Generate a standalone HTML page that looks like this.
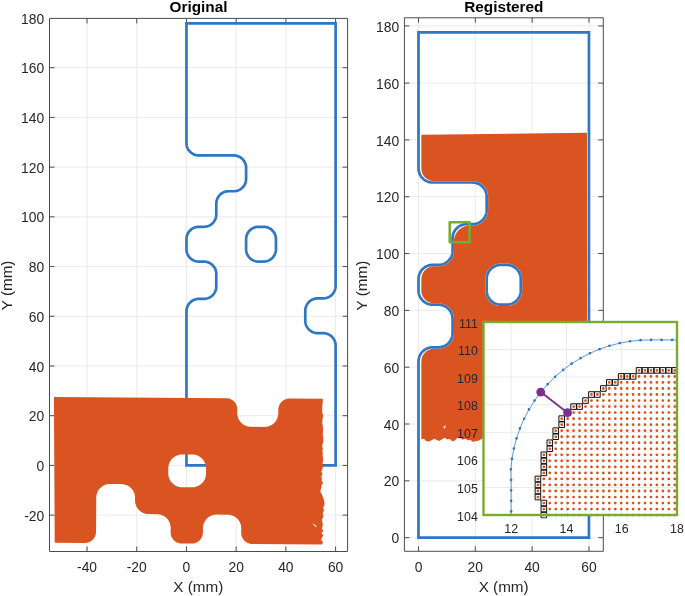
<!DOCTYPE html>
<html lang="en"><head><meta charset="utf-8"><title>Original vs Registered</title>
<style>html,body{margin:0;padding:0;background:#fff}body{width:685px;height:596px;overflow:hidden}svg{display:block}text{font-family:"Liberation Sans", Arial, Helvetica, sans-serif;fill:#262626}</style></head><body>
<svg width="685" height="596" viewBox="0 0 685 596">
<rect width="685" height="596" fill="#fff"/>
<g id="ax-original">
<path d="M87.04 18.4V551.5M136.75 18.4V551.5M186.46 18.4V551.5M236.17 18.4V551.5M285.88 18.4V551.5M335.6 18.4V551.5M49.5 515.11H347.6M49.5 465.4H347.6M49.5 415.69H347.6M49.5 365.98H347.6M49.5 316.26H347.6M49.5 266.55H347.6M49.5 216.84H347.6M49.5 167.13H347.6M49.5 117.42H347.6M49.5 67.7H347.6" stroke="#eaeaea" stroke-width="1" fill="none"/>
<path d="M49.5 18.4H347.6V551.5H49.5ZM87.04 551.5v-5M87.04 18.4v5M136.75 551.5v-5M136.75 18.4v5M186.46 551.5v-5M186.46 18.4v5M236.17 551.5v-5M236.17 18.4v5M285.88 551.5v-5M285.88 18.4v5M335.6 551.5v-5M335.6 18.4v5M49.5 515.11h5M347.6 515.11h-5M49.5 465.4h5M347.6 465.4h-5M49.5 415.69h5M347.6 415.69h-5M49.5 365.98h5M347.6 365.98h-5M49.5 316.26h5M347.6 316.26h-5M49.5 266.55h5M347.6 266.55h-5M49.5 216.84h5M347.6 216.84h-5M49.5 167.13h5M347.6 167.13h-5M49.5 117.42h5M347.6 117.42h-5M49.5 67.7h5M347.6 67.7h-5" stroke="#4c4c4c" stroke-width="1" fill="none"/>
<path d="M186.46 465.4L186.46 311.29L186.48 310.54L186.55 309.79L186.66 309.05L186.82 308.32L187.02 307.6L187.27 306.89L187.55 306.19L187.88 305.52L188.25 304.86L188.66 304.23L189.1 303.63L189.59 303.05L190.1 302.5L190.65 301.99L191.22 301.51L191.83 301.06L192.46 300.66L193.11 300.29L193.79 299.96L194.48 299.67L195.19 299.43L195.91 299.23L196.65 299.07L197.39 298.96L198.14 298.89L198.89 298.86L203.86 298.86L204.61 298.84L205.36 298.77L206.1 298.66L206.83 298.5L207.56 298.3L208.27 298.06L208.96 297.77L209.63 297.44L210.29 297.07L210.92 296.66L211.52 296.22L212.1 295.74L212.65 295.22L213.16 294.68L213.64 294.1L214.09 293.5L214.49 292.87L214.86 292.21L215.19 291.54L215.48 290.84L215.72 290.13L215.93 289.41L216.08 288.68L216.2 287.93L216.26 287.19L216.29 286.44L216.29 274.01L216.26 273.26L216.2 272.51L216.08 271.77L215.93 271.03L215.72 270.31L215.48 269.6L215.19 268.91L214.86 268.23L214.49 267.58L214.09 266.95L213.64 266.34L213.16 265.77L212.65 265.22L212.1 264.71L211.52 264.23L210.92 263.78L210.29 263.37L209.63 263L208.96 262.68L208.27 262.39L207.56 262.14L206.83 261.94L206.1 261.78L205.36 261.67L204.61 261.6L203.86 261.58L198.89 261.58L198.14 261.56L197.39 261.49L196.65 261.38L195.91 261.22L195.19 261.02L194.48 260.77L193.79 260.49L193.11 260.16L192.46 259.79L191.83 259.38L191.22 258.94L190.65 258.46L190.1 257.94L189.59 257.39L189.1 256.82L188.66 256.21L188.25 255.58L187.88 254.93L187.55 254.25L187.27 253.56L187.02 252.85L186.82 252.13L186.66 251.39L186.55 250.65L186.48 249.9L186.46 249.15L186.46 239.21L186.48 238.46L186.55 237.71L186.66 236.97L186.82 236.24L187.02 235.51L187.27 234.8L187.55 234.11L187.88 233.43L188.25 232.78L188.66 232.15L189.1 231.55L189.59 230.97L190.1 230.42L190.65 229.91L191.22 229.43L191.83 228.98L192.46 228.57L193.11 228.21L193.79 227.88L194.48 227.59L195.19 227.35L195.91 227.14L196.65 226.99L197.39 226.87L198.14 226.81L198.89 226.78L203.86 226.78L204.61 226.76L205.36 226.69L206.1 226.58L206.83 226.42L207.56 226.22L208.27 225.97L208.96 225.69L209.63 225.36L210.29 224.99L210.92 224.58L211.52 224.14L212.1 223.66L212.65 223.14L213.16 222.6L213.64 222.02L214.09 221.41L214.49 220.78L214.86 220.13L215.19 219.46L215.48 218.76L215.72 218.05L215.93 217.33L216.08 216.59L216.2 215.85L216.26 215.1L216.29 214.35L216.29 203.67L216.31 202.92L216.38 202.17L216.49 201.43L216.65 200.69L216.85 199.97L217.09 199.26L217.38 198.57L217.71 197.89L218.08 197.24L218.49 196.61L218.93 196L219.41 195.43L219.93 194.88L220.47 194.36L221.05 193.88L221.66 193.44L222.29 193.03L222.94 192.66L223.61 192.33L224.31 192.05L225.02 191.8L225.74 191.6L226.47 191.44L227.22 191.33L227.96 191.26L228.72 191.24L233.69 191.24L234.44 191.22L235.18 191.15L235.93 191.03L236.66 190.88L237.38 190.68L238.09 190.43L238.79 190.14L239.46 189.81L240.12 189.45L240.75 189.04L241.35 188.59L241.93 188.11L242.47 187.6L242.99 187.05L243.47 186.47L243.91 185.87L244.32 185.24L244.69 184.59L245.02 183.91L245.31 183.22L245.55 182.51L245.75 181.78L245.91 181.05L246.02 180.31L246.09 179.56L246.11 178.81L246.11 167.87L246.09 167.12L246.02 166.38L245.91 165.63L245.75 164.9L245.55 164.18L245.31 163.47L245.02 162.77L244.69 162.1L244.32 161.44L243.91 160.81L243.47 160.21L242.99 159.63L242.47 159.09L241.93 158.57L241.35 158.09L240.75 157.65L240.12 157.24L239.46 156.87L238.79 156.54L238.09 156.25L237.38 156.01L236.66 155.81L235.93 155.65L235.18 155.54L234.44 155.47L233.69 155.45L198.89 155.45L198.14 155.42L197.39 155.36L196.65 155.24L195.91 155.08L195.19 154.88L194.48 154.64L193.79 154.35L193.11 154.02L192.46 153.65L191.83 153.25L191.22 152.8L190.65 152.32L190.1 151.81L189.59 151.26L189.1 150.68L188.66 150.08L188.25 149.45L187.88 148.79L187.55 148.12L187.27 147.42L187.02 146.72L186.82 145.99L186.66 145.26L186.55 144.52L186.48 143.77L186.46 143.02L186.46 23.46L335.6 23.46L335.6 285.94L335.57 286.69L335.51 287.44L335.39 288.18L335.23 288.91L335.03 289.64L334.79 290.35L334.5 291.04L334.17 291.72L333.8 292.37L333.4 293L332.95 293.6L332.47 294.18L331.96 294.73L331.41 295.24L330.83 295.72L330.23 296.17L329.6 296.58L328.94 296.94L328.27 297.27L327.58 297.56L326.87 297.8L326.14 298.01L325.41 298.16L324.67 298.28L323.92 298.35L323.17 298.37L317.7 298.37L316.95 298.39L316.2 298.46L315.46 298.57L314.73 298.73L314 298.93L313.29 299.18L312.6 299.46L311.92 299.79L311.27 300.16L310.64 300.57L310.04 301.01L309.46 301.49L308.91 302.01L308.4 302.55L307.92 303.13L307.47 303.74L307.06 304.37L306.7 305.02L306.37 305.7L306.08 306.39L305.83 307.1L305.63 307.82L305.48 308.56L305.36 309.3L305.29 310.05L305.27 310.8L305.27 320.74L305.29 321.49L305.36 322.24L305.48 322.98L305.63 323.71L305.83 324.44L306.08 325.15L306.37 325.84L306.7 326.51L307.06 327.17L307.47 327.8L307.92 328.4L308.4 328.98L308.91 329.53L309.46 330.04L310.04 330.52L310.64 330.97L311.27 331.37L311.92 331.74L312.6 332.07L313.29 332.36L314 332.6L314.73 332.8L315.46 332.96L316.2 333.08L316.95 333.14L317.7 333.17L323.17 333.17L323.92 333.19L324.67 333.26L325.41 333.37L326.14 333.53L326.87 333.73L327.58 333.97L328.27 334.26L328.94 334.59L329.6 334.96L330.23 335.37L330.83 335.81L331.41 336.29L331.96 336.81L332.47 337.35L332.95 337.93L333.4 338.53L333.8 339.16L334.17 339.82L334.5 340.49L334.79 341.19L335.03 341.9L335.23 342.62L335.39 343.35L335.51 344.1L335.57 344.84L335.6 345.59L335.6 465.4ZM258.54 261.58L257.79 261.56L257.04 261.49L256.3 261.38L255.57 261.22L254.85 261.02L254.14 260.77L253.44 260.49L252.77 260.16L252.11 259.79L251.48 259.38L250.88 258.94L250.3 258.46L249.75 257.94L249.24 257.39L248.76 256.82L248.31 256.21L247.91 255.58L247.54 254.93L247.21 254.25L246.92 253.56L246.68 252.85L246.48 252.13L246.32 251.39L246.21 250.65L246.14 249.9L246.11 249.15L246.11 239.21L246.14 238.46L246.21 237.71L246.32 236.97L246.48 236.24L246.68 235.51L246.92 234.8L247.21 234.11L247.54 233.43L247.91 232.78L248.31 232.15L248.76 231.55L249.24 230.97L249.75 230.42L250.3 229.91L250.88 229.43L251.48 228.98L252.11 228.57L252.77 228.21L253.44 227.88L254.14 227.59L254.85 227.35L255.57 227.14L256.3 226.99L257.04 226.87L257.79 226.81L258.54 226.78L263.51 226.78L264.26 226.81L265.01 226.87L265.75 226.99L266.49 227.14L267.21 227.35L267.92 227.59L268.61 227.88L269.29 228.21L269.94 228.57L270.57 228.98L271.18 229.43L271.75 229.91L272.3 230.42L272.82 230.97L273.3 231.55L273.74 232.15L274.15 232.78L274.52 233.43L274.85 234.11L275.13 234.8L275.38 235.51L275.58 236.24L275.74 236.97L275.85 237.71L275.92 238.46L275.94 239.21L275.94 249.15L275.92 249.9L275.85 250.65L275.74 251.39L275.58 252.13L275.38 252.85L275.13 253.56L274.85 254.25L274.52 254.93L274.15 255.58L273.74 256.21L273.3 256.82L272.82 257.39L272.3 257.94L271.75 258.46L271.18 258.94L270.57 259.38L269.94 259.79L269.29 260.16L268.61 260.49L267.92 260.77L267.21 261.02L266.49 261.22L265.75 261.38L265.01 261.49L264.26 261.56L263.51 261.58Z" fill="none" stroke="#2f77c4" stroke-width="2.7" stroke-linejoin="miter"/>
<path d="M321.91 544.45L252.32 544L251.56 543.97L250.8 543.89L250.05 543.75L249.3 543.56L248.58 543.33L247.87 543.04L247.18 542.71L246.52 542.33L245.88 541.91L245.28 541.44L244.7 540.94L244.17 540.4L243.67 539.82L243.21 539.21L242.8 538.56L242.43 537.9L242.1 537.2L241.83 536.49L241.6 535.76L241.43 535.02L241.3 534.27L241.23 533.51L241.21 532.74L241.23 528.39L241.22 527.63L241.16 526.86L241.06 526.1L240.91 525.35L240.72 524.6L240.5 523.87L240.23 523.15L239.92 522.45L239.57 521.77L239.19 521.11L238.76 520.47L238.31 519.85L237.82 519.26L237.29 518.7L236.74 518.17L236.16 517.67L235.55 517.21L234.91 516.78L234.25 516.38L233.58 516.03L232.88 515.71L232.16 515.43L231.43 515.19L230.69 515L229.94 514.84L229.18 514.73L228.42 514.66L227.65 514.63L216.72 514.56L215.95 514.58L215.18 514.64L214.42 514.74L213.67 514.89L212.93 515.07L212.2 515.3L211.48 515.57L210.78 515.88L210.09 516.23L209.43 516.61L208.79 517.03L208.17 517.49L207.58 517.98L207.02 518.5L206.49 519.06L205.99 519.64L205.53 520.25L205.1 520.89L204.71 521.54L204.35 522.22L204.03 522.92L203.75 523.63L203.52 524.36L203.32 525.11L203.17 525.86L203.05 526.61L202.98 527.38L202.96 528.14L202.93 532.49L202.9 533.26L202.82 534.02L202.68 534.77L202.49 535.51L202.26 536.24L201.97 536.94L201.64 537.63L201.26 538.3L200.84 538.93L200.37 539.54L199.87 540.11L199.33 540.65L198.75 541.14L198.14 541.6L197.49 542.02L196.83 542.39L196.13 542.71L195.42 542.99L194.69 543.21L193.95 543.39L193.2 543.51L192.44 543.59L191.67 543.61L181.73 543.54L180.97 543.51L180.21 543.43L179.46 543.29L178.71 543.11L177.99 542.87L177.28 542.59L176.59 542.26L175.93 541.88L175.29 541.45L174.69 540.99L174.11 540.48L173.58 539.94L173.08 539.36L172.62 538.75L172.21 538.11L171.84 537.44L171.51 536.75L171.24 536.04L171.01 535.31L170.84 534.56L170.71 533.81L170.64 533.05L170.62 532.29L170.65 527.94L170.63 527.17L170.57 526.41L170.47 525.65L170.32 524.89L170.14 524.15L169.91 523.42L169.64 522.7L169.33 522L168.98 521.31L168.6 520.65L168.17 520.01L167.72 519.39L167.23 518.8L166.7 518.24L166.15 517.71L165.57 517.22L164.96 516.75L164.32 516.32L163.66 515.93L162.99 515.57L162.29 515.25L161.57 514.97L160.84 514.74L160.1 514.54L159.35 514.39L158.59 514.27L157.83 514.2L157.06 514.18L148.61 514.12L147.85 514.1L147.08 514.03L146.32 513.91L145.57 513.76L144.83 513.56L144.1 513.33L143.39 513.05L142.69 512.73L142.01 512.37L141.35 511.98L140.72 511.55L140.11 511.09L139.53 510.59L138.97 510.06L138.45 509.5L137.96 508.91L137.5 508.29L137.08 507.65L136.69 506.99L136.35 506.3L136.04 505.6L135.77 504.88L135.54 504.15L135.35 503.41L135.21 502.66L135.11 501.9L135.05 501.13L135.03 500.36L135.05 497.88L135.03 497.11L134.97 496.35L134.87 495.59L134.72 494.83L134.54 494.09L134.31 493.36L134.04 492.64L133.73 491.94L133.38 491.25L133 490.59L132.58 489.95L132.12 489.34L131.63 488.75L131.1 488.19L130.55 487.66L129.97 487.16L129.36 486.69L128.72 486.26L128.07 485.87L127.39 485.51L126.69 485.19L125.97 484.92L125.24 484.68L124.5 484.48L123.75 484.33L122.99 484.22L122.23 484.15L121.46 484.12L110.03 484.05L109.26 484.06L108.5 484.12L107.74 484.22L106.99 484.37L106.24 484.56L105.51 484.78L104.79 485.05L104.09 485.36L103.41 485.71L102.74 486.09L102.1 486.52L101.49 486.97L100.9 487.46L100.34 487.99L99.81 488.54L99.31 489.12L98.84 489.73L98.41 490.37L98.02 491.03L97.66 491.71L97.35 492.4L97.07 493.12L96.83 493.85L96.63 494.59L96.48 495.34L96.37 496.1L96.3 496.86L96.27 497.63L96.05 531.8L96.02 532.57L95.94 533.33L95.8 534.08L95.62 534.82L95.38 535.55L95.1 536.25L94.76 536.94L94.38 537.61L93.96 538.24L93.5 538.85L92.99 539.42L92.45 539.96L91.87 540.45L91.26 540.91L90.62 541.33L89.95 541.7L89.26 542.02L88.54 542.3L87.81 542.52L87.07 542.7L86.32 542.82L85.56 542.9L84.79 542.92L55.46 542.73L55.18 542.67L54.93 542.51L54.77 542.27L54.71 541.98L53.92 397.68L53.97 397.44L54.1 397.24L54.3 397.11L54.54 397.06L226.17 398.17L226.93 398.2L227.69 398.28L228.44 398.42L229.18 398.61L229.91 398.84L230.62 399.13L231.31 399.46L231.97 399.84L232.6 400.26L233.21 400.73L233.78 401.23L234.32 401.77L234.82 402.35L235.27 402.96L235.69 403.61L236.06 404.27L236.38 404.97L236.66 405.68L236.88 406.41L237.06 407.15L237.19 407.9L237.26 408.66L237.28 409.43L237.26 413.03L237.27 413.8L237.33 414.56L237.44 415.32L237.58 416.08L237.77 416.82L237.99 417.55L238.26 418.27L238.57 418.97L238.92 419.66L239.31 420.32L239.73 420.96L240.18 421.57L240.68 422.16L241.2 422.72L241.75 423.25L242.33 423.75L242.94 424.22L243.58 424.65L244.24 425.04L244.92 425.4L245.61 425.72L246.33 425.99L247.06 426.23L247.8 426.43L248.55 426.58L249.31 426.7L250.07 426.76L250.84 426.79L264.51 426.88L265.28 426.86L266.04 426.8L266.8 426.7L267.55 426.56L268.3 426.37L269.03 426.14L269.75 425.87L270.45 425.56L271.13 425.22L271.8 424.83L272.44 424.41L273.05 423.95L273.64 423.46L274.2 422.94L274.73 422.38L275.23 421.8L275.7 421.19L276.13 420.56L276.52 419.9L276.88 419.22L277.19 418.52L277.47 417.81L277.71 417.08L277.91 416.34L278.06 415.59L278.17 414.83L278.24 414.06L278.27 413.3L278.29 409.69L278.32 408.93L278.41 408.17L278.54 407.42L278.73 406.68L278.96 405.95L279.25 405.24L279.58 404.56L279.96 403.89L280.38 403.26L280.85 402.65L281.35 402.08L281.9 401.54L282.47 401.04L283.09 400.59L283.73 400.17L284.4 399.8L285.09 399.48L285.8 399.2L286.53 398.98L287.27 398.8L288.03 398.67L288.79 398.6L289.55 398.58L322.86 398.8L322.77 401.07L322.58 403.35L322.42 405.62L322.17 407.89L322.27 410.17L322.1 412.45L323 414.73L322.96 417L322.41 419.28L322.45 421.55L322.18 423.83L322.91 426.11L322.88 428.38L323.1 430.66L322.87 432.93L322.72 435.21L323.26 437.49L323.29 439.76L323.23 442.04L322.49 444.31L322.28 446.59L322.84 448.87L322.4 451.14L322.91 453.42L322.62 455.69L323.01 457.97L323.34 460.25L322.54 462.52L322.86 464.8L323.01 467.07L322.22 469.34L321.34 471.62L322.65 473.9L321.27 476.17L321.85 478.45L321.71 480.72L323.06 483.01L321.51 485.27L321.48 487.55L320.63 489.82L320.41 492.09L322.09 494.38L322.74 496.66L323.64 498.94L324.15 501.22L324.64 503.5L324.16 505.77L323 508.04L324.23 510.32L322.8 512.59L323.1 514.87L323.33 517.15L321.9 519.41L322.2 521.69L322.84 523.97L322.65 526.25L321.88 528.52L323.44 530.8L321.44 533.07L323.31 535.35L322.04 537.62L321.11 539.89L323.14 542.18ZM206.04 473.48L206.02 474.23L205.95 474.98L205.85 475.73L205.7 476.47L205.51 477.2L205.29 477.92L205.02 478.63L204.72 479.32L204.38 479.99L204.01 480.64L203.6 481.28L203.15 481.89L202.68 482.47L202.17 483.03L201.63 483.56L201.07 484.06L200.48 484.53L199.86 484.96L199.22 485.36L198.57 485.73L197.89 486.06L197.19 486.35L196.48 486.61L195.76 486.83L195.03 487L194.29 487.14L193.54 487.24L192.79 487.29L192.04 487.31L182.09 487.25L181.34 487.22L180.59 487.15L179.84 487.05L179.1 486.9L178.37 486.71L177.65 486.49L176.95 486.22L176.26 485.92L175.58 485.58L174.93 485.21L174.3 484.8L173.69 484.35L173.1 483.88L172.55 483.37L172.02 482.83L171.52 482.27L171.05 481.68L170.61 481.06L170.21 480.43L169.84 479.77L169.51 479.09L169.22 478.39L168.96 477.69L168.75 476.96L168.57 476.23L168.43 475.49L168.34 474.74L168.28 473.99L168.26 473.24L168.3 468.27L168.32 467.51L168.39 466.76L168.49 466.01L168.64 465.28L168.83 464.55L169.05 463.83L169.32 463.12L169.62 462.43L169.96 461.76L170.33 461.1L170.75 460.47L171.19 459.86L171.66 459.28L172.17 458.72L172.71 458.19L173.27 457.69L173.86 457.22L174.48 456.78L175.12 456.38L175.77 456.02L176.45 455.69L177.15 455.39L177.86 455.14L178.58 454.92L179.31 454.74L180.05 454.61L180.8 454.51L181.55 454.45L182.31 454.44L192.25 454.5L193 454.53L193.75 454.59L194.5 454.7L195.24 454.85L195.97 455.03L196.69 455.26L197.39 455.52L198.08 455.82L198.76 456.16L199.41 456.54L200.04 456.95L200.65 457.39L201.24 457.87L201.79 458.38L202.32 458.91L202.82 459.48L203.29 460.07L203.73 460.68L204.13 461.32L204.5 461.98L204.83 462.66L205.12 463.35L205.38 464.06L205.59 464.78L205.77 465.52L205.91 466.26L206 467L206.06 467.76L206.08 468.51Z" fill="#d95421" fill-rule="evenodd"/>
<path d="M312.11 523.13l3.6 2.2l1.4 1.9l-2.2 -0.9z" fill="#fff"/>
</g>
<text x="87.04" y="572.1" font-size="13.85" text-anchor="middle">-40</text>
<text x="136.75" y="572.1" font-size="13.85" text-anchor="middle">-20</text>
<text x="186.46" y="572.1" font-size="13.85" text-anchor="middle">0</text>
<text x="236.17" y="572.1" font-size="13.85" text-anchor="middle">20</text>
<text x="285.88" y="572.1" font-size="13.85" text-anchor="middle">40</text>
<text x="335.6" y="572.1" font-size="13.85" text-anchor="middle">60</text>
<text x="44.2" y="520.71" font-size="13.85" text-anchor="end">-20</text>
<text x="44.2" y="471" font-size="13.85" text-anchor="end">0</text>
<text x="44.2" y="421.29" font-size="13.85" text-anchor="end">20</text>
<text x="44.2" y="371.58" font-size="13.85" text-anchor="end">40</text>
<text x="44.2" y="321.86" font-size="13.85" text-anchor="end">60</text>
<text x="44.2" y="272.15" font-size="13.85" text-anchor="end">80</text>
<text x="44.2" y="222.44" font-size="13.85" text-anchor="end">100</text>
<text x="44.2" y="172.73" font-size="13.85" text-anchor="end">120</text>
<text x="44.2" y="123.02" font-size="13.85" text-anchor="end">140</text>
<text x="44.2" y="73.3" font-size="13.85" text-anchor="end">160</text>
<text x="44.2" y="23.59" font-size="13.85" text-anchor="end">180</text>
<text x="198.55" y="12" font-size="15.35" font-weight="bold" text-anchor="middle" style="fill:#000">Original</text>
<text x="198.35" y="592" font-size="15.25" text-anchor="middle">X (mm)</text>
<text transform="translate(11.8 285.4) rotate(-90)" font-size="15.25" text-anchor="middle">Y (mm)</text>
<g id="ax-registered">
<path d="M418.5 17.8V551.3M475.32 17.8V551.3M532.14 17.8V551.3M588.96 17.8V551.3M404.4 537.65H603.3M404.4 480.83H603.3M404.4 424.01H603.3M404.4 367.19H603.3M404.4 310.37H603.3M404.4 253.55H603.3M404.4 196.73H603.3M404.4 139.91H603.3M404.4 83.09H603.3M404.4 25.9H603.3" stroke="#eaeaea" stroke-width="1" fill="none"/>
<path d="M404.4 17.8H603.3V551.3H404.4ZM418.5 551.3v-5M418.5 17.8v5M475.32 551.3v-5M475.32 17.8v5M532.14 551.3v-5M532.14 17.8v5M588.96 551.3v-5M588.96 17.8v5M404.4 537.65h5M603.3 537.65h-5M404.4 480.83h5M603.3 480.83h-5M404.4 424.01h5M603.3 424.01h-5M404.4 367.19h5M603.3 367.19h-5M404.4 310.37h5M603.3 310.37h-5M404.4 253.55h5M603.3 253.55h-5M404.4 196.73h5M603.3 196.73h-5M404.4 139.91h5M603.3 139.91h-5M404.4 83.09h5M603.3 83.09h-5M404.4 25.9h5M603.3 25.9h-5" stroke="#4c4c4c" stroke-width="1" fill="none"/>
<path d="M421.34 439.35L421.34 361.51L421.37 360.64L421.46 359.77L421.61 358.91L421.82 358.06L422.08 357.23L422.4 356.41L422.77 355.63L423.2 354.87L423.68 354.14L424.21 353.44L424.78 352.78L425.4 352.16L426.06 351.59L426.75 351.06L427.48 350.58L428.24 350.16L429.03 349.78L429.84 349.46L430.68 349.2L431.52 348.99L432.38 348.84L433.25 348.75L434.13 348.72L438.39 348.72L439.26 348.7L440.14 348.63L441 348.5L441.86 348.33L442.71 348.11L443.55 347.85L444.37 347.53L445.17 347.18L445.95 346.77L446.7 346.33L447.43 345.84L448.13 345.31L448.8 344.75L449.44 344.15L450.04 343.51L450.6 342.84L451.13 342.14L451.62 341.41L452.06 340.66L452.47 339.88L452.82 339.08L453.14 338.26L453.4 337.42L453.62 336.58L453.79 335.72L453.91 334.85L453.99 333.97L454.01 333.1L454.01 318.89L453.99 318.02L453.91 317.14L453.79 316.28L453.62 315.42L453.4 314.57L453.14 313.73L452.82 312.91L452.47 312.11L452.06 311.33L451.62 310.58L451.13 309.85L450.6 309.15L450.04 308.48L449.44 307.84L448.8 307.24L448.13 306.68L447.43 306.15L446.7 305.66L445.95 305.22L445.17 304.81L444.37 304.46L443.55 304.14L442.71 303.88L441.86 303.66L441 303.49L440.14 303.37L439.26 303.29L438.39 303.27L434.13 303.27L433.25 303.24L432.38 303.15L431.52 303L430.68 302.79L429.84 302.53L429.03 302.21L428.24 301.83L427.48 301.41L426.75 300.93L426.06 300.4L425.4 299.83L424.78 299.21L424.21 298.55L423.68 297.86L423.2 297.13L422.77 296.36L422.4 295.58L422.08 294.76L421.82 293.93L421.61 293.08L421.46 292.22L421.37 291.36L421.34 290.48L421.34 279.12L421.37 278.25L421.46 277.38L421.61 276.52L421.82 275.67L422.08 274.84L422.4 274.03L422.77 273.24L423.2 272.48L423.68 271.75L424.21 271.05L424.78 270.39L425.4 269.78L426.06 269.2L426.75 268.67L427.48 268.2L428.24 267.77L429.03 267.39L429.84 267.07L430.68 266.81L431.52 266.6L432.38 266.45L433.25 266.36L434.13 266.33L438.39 266.33L439.26 266.31L440.14 266.24L441 266.11L441.86 265.94L442.71 265.72L443.55 265.46L444.37 265.15L445.17 264.79L445.95 264.38L446.7 263.94L447.43 263.45L448.13 262.93L448.8 262.36L449.44 261.76L450.04 261.12L450.6 260.45L451.13 259.75L451.62 259.02L452.06 258.27L452.47 257.49L452.82 256.69L453.14 255.87L453.4 255.03L453.62 254.19L453.79 253.33L453.91 252.46L453.99 251.59L454.01 250.71L454.01 241.19L454.04 240.32L454.11 239.44L454.23 238.57L454.4 237.71L454.62 236.87L454.89 236.03L455.2 235.21L455.56 234.41L455.96 233.63L456.41 232.88L456.89 232.15L457.42 231.45L457.99 230.78L458.59 230.14L459.23 229.54L459.9 228.98L460.6 228.45L461.32 227.96L462.08 227.52L462.86 227.11L463.66 226.76L464.48 226.44L465.31 226.18L466.16 225.96L467.02 225.79L467.89 225.66L468.76 225.59L469.64 225.57L472.48 225.57L473.36 225.54L474.23 225.47L475.1 225.35L475.96 225.17L476.8 224.96L477.64 224.69L478.46 224.38L479.26 224.02L480.04 223.62L480.79 223.17L481.52 222.68L482.22 222.16L482.89 221.59L483.53 220.99L484.13 220.35L484.7 219.68L485.22 218.98L485.71 218.25L486.15 217.5L486.56 216.72L486.92 215.92L487.23 215.1L487.49 214.27L487.71 213.42L487.88 212.56L488.01 211.69L488.08 210.82L488.1 209.94L488.1 196.73L488.08 195.85L488.01 194.98L487.88 194.11L487.71 193.25L487.49 192.4L487.23 191.57L486.92 190.75L486.56 189.95L486.15 189.17L485.71 188.42L485.22 187.69L484.7 186.99L484.13 186.32L483.53 185.68L482.89 185.08L482.22 184.51L481.52 183.99L480.79 183.5L480.04 183.05L479.26 182.65L478.46 182.29L477.64 181.98L476.8 181.72L475.96 181.5L475.1 181.33L474.23 181.2L473.36 181.13L472.48 181.1L434.13 181.1L433.25 181.07L432.38 180.99L431.52 180.84L430.68 180.63L429.84 180.37L429.03 180.05L428.24 179.67L427.48 179.24L426.75 178.76L426.06 178.24L425.4 177.66L424.78 177.05L424.21 176.39L423.68 175.69L423.2 174.96L422.77 174.2L422.4 173.41L422.08 172.6L421.82 171.77L421.61 170.92L421.46 170.06L421.37 169.19L421.34 168.32L421.34 135.65L421.4 135.32L421.59 135.04L421.86 134.85L422.19 134.79L586.26 132.82L586.53 132.87L586.76 133.02L586.91 133.25L586.97 133.52L586.97 333.1L586.94 333.97L586.85 334.84L586.7 335.7L586.5 336.55L586.23 337.38L585.91 338.19L585.54 338.98L585.11 339.74L584.63 340.47L584.1 341.17L583.53 341.82L582.91 342.44L582.25 343.02L581.56 343.54L580.83 344.02L580.07 344.45L579.28 344.82L578.47 345.14L577.64 345.41L576.79 345.62L575.93 345.76L575.06 345.85L574.19 345.88L567.65 345.88L566.78 345.91L565.9 345.98L565.04 346.1L564.18 346.27L563.33 346.49L562.49 346.76L561.67 347.07L560.87 347.43L560.09 347.83L559.34 348.28L558.61 348.76L557.91 349.29L557.24 349.86L556.6 350.46L556 351.1L555.44 351.77L554.91 352.47L554.42 353.19L553.98 353.95L553.57 354.73L553.22 355.53L552.9 356.35L552.64 357.18L552.42 358.03L552.25 358.89L552.13 359.76L552.05 360.63L552.03 361.51L552.03 372.87L552.05 373.75L552.13 374.62L552.25 375.49L552.42 376.35L552.64 377.2L552.9 378.03L553.22 378.85L553.57 379.65L553.98 380.43L554.42 381.19L554.91 381.91L555.44 382.61L556 383.28L556.6 383.92L557.24 384.52L557.91 385.09L558.61 385.62L559.34 386.1L560.09 386.55L560.87 386.95L561.67 387.31L562.49 387.62L563.33 387.89L564.18 388.11L565.04 388.28L565.9 388.4L566.78 388.47L567.65 388.5L574.19 388.5L575.06 388.53L575.93 388.62L576.79 388.76L577.64 388.97L578.47 389.24L579.28 389.56L580.07 389.93L580.83 390.36L581.56 390.84L582.25 391.36L582.91 391.94L583.53 392.56L584.1 393.21L584.63 393.91L585.11 394.64L585.54 395.4L585.91 396.19L586.23 397L586.5 397.83L586.7 398.68L586.85 399.54L586.94 400.41L586.97 401.28L586.97 439.35L584.38 439.5L581.8 439.42L579.21 438.87L576.62 439.24L574.03 439.36L571.44 439.31L568.86 439.85L566.27 439.66L563.68 439.4L561.09 439.04L558.5 439.85L555.92 439.95L553.33 440.31L550.74 439.47L548.15 439.22L545.56 440.01L542.98 439.08L540.39 438.64L537.8 438.86L535.21 439.02L532.62 439.75L530.04 440.31L527.45 439.87L524.86 440.31L522.27 440.34L519.68 440.29L517.1 440.56L514.51 440.08L511.92 439.88L509.33 439.21L506.74 439.33L504.16 439.02L501.57 439.4L498.98 438.96L496.39 439.53L493.8 440.51L491.22 438.23L488.63 437.1L486.04 437.14L483.45 437.66L480.86 439.43L478.28 440.64L475.69 441.02L473.1 442.05L470.51 439.89L467.92 440.22L465.34 438.67L462.75 439.66L460.16 437.96L457.57 437.54L454.98 440.57L452.4 441.29L449.81 438.96L447.22 439.48L444.63 437.79L442.04 439.18L439.46 441.11L436.87 439.95L434.28 438.8L431.69 440.17L429.1 441.56L426.52 441.31L423.93 438.76ZM500.89 306.11L500.01 306.08L499.14 306.01L498.27 305.89L497.41 305.72L496.56 305.5L495.73 305.23L494.91 304.92L494.11 304.56L493.33 304.16L492.58 303.71L491.85 303.23L491.15 302.7L490.48 302.13L489.84 301.53L489.24 300.89L488.67 300.23L488.15 299.53L487.66 298.8L487.21 298.04L486.81 297.26L486.45 296.46L486.14 295.64L485.87 294.81L485.66 293.96L485.48 293.1L485.36 292.23L485.29 291.36L485.26 290.48L485.26 279.12L485.29 278.24L485.36 277.37L485.48 276.5L485.66 275.64L485.87 274.79L486.14 273.96L486.45 273.14L486.81 272.34L487.21 271.56L487.66 270.81L488.15 270.08L488.67 269.38L489.24 268.71L489.84 268.07L490.48 267.47L491.15 266.9L491.85 266.38L492.58 265.89L493.33 265.44L494.11 265.04L494.91 264.68L495.73 264.37L496.56 264.1L497.41 263.89L498.27 263.71L499.14 263.59L500.01 263.52L500.89 263.49L506.57 263.49L507.45 263.52L508.32 263.59L509.19 263.71L510.05 263.89L510.9 264.1L511.73 264.37L512.55 264.68L513.35 265.04L514.13 265.44L514.88 265.89L515.61 266.38L516.31 266.9L516.98 267.47L517.62 268.07L518.22 268.71L518.79 269.38L519.31 270.08L519.8 270.81L520.25 271.56L520.65 272.34L521.01 273.14L521.32 273.96L521.59 274.79L521.8 275.64L521.98 276.5L522.1 277.37L522.17 278.24L522.2 279.12L522.2 290.48L522.17 291.36L522.1 292.23L521.98 293.1L521.8 293.96L521.59 294.81L521.32 295.64L521.01 296.46L520.65 297.26L520.25 298.04L519.8 298.8L519.31 299.53L518.79 300.23L518.22 300.89L517.62 301.53L516.98 302.13L516.31 302.7L515.61 303.23L514.88 303.71L514.13 304.16L513.35 304.56L512.55 304.92L511.73 305.23L510.9 305.5L510.05 305.72L509.19 305.89L508.32 306.01L507.45 306.08L506.57 306.11Z" fill="#d95421" fill-rule="evenodd"/>
<path d="M418.5 537.65L418.5 361.51L418.53 360.65L418.6 359.8L418.73 358.95L418.91 358.11L419.14 357.28L419.42 356.47L419.75 355.68L420.13 354.91L420.55 354.16L421.01 353.44L421.52 352.75L422.07 352.09L422.66 351.46L423.29 350.88L423.94 350.33L424.64 349.82L425.36 349.35L426.1 348.93L426.88 348.55L427.67 348.23L428.48 347.95L429.31 347.72L430.14 347.54L430.99 347.41L431.85 347.33L432.7 347.3L438.39 347.3L439.24 347.28L440.1 347.2L440.95 347.07L441.79 346.89L442.61 346.66L443.42 346.38L444.22 346.05L444.99 345.68L445.74 345.25L446.46 344.79L447.15 344.28L447.81 343.73L448.43 343.14L449.02 342.52L449.57 341.86L450.08 341.17L450.54 340.45L450.96 339.7L451.34 338.93L451.67 338.14L451.95 337.32L452.18 336.5L452.36 335.66L452.49 334.81L452.57 333.96L452.59 333.1L452.59 318.89L452.57 318.04L452.49 317.18L452.36 316.33L452.18 315.49L451.95 314.67L451.67 313.86L451.34 313.06L450.96 312.29L450.54 311.54L450.08 310.82L449.57 310.13L449.02 309.47L448.43 308.85L447.81 308.26L447.15 307.71L446.46 307.2L445.74 306.74L444.99 306.32L444.22 305.94L443.42 305.61L442.61 305.33L441.79 305.1L440.95 304.92L440.1 304.79L439.24 304.71L438.39 304.69L432.7 304.69L431.85 304.66L430.99 304.58L430.14 304.46L429.31 304.28L428.48 304.04L427.67 303.76L426.88 303.44L426.1 303.06L425.36 302.64L424.64 302.17L423.94 301.66L423.29 301.12L422.66 300.53L422.07 299.9L421.52 299.24L421.01 298.55L420.55 297.83L420.13 297.08L419.75 296.31L419.42 295.52L419.14 294.71L418.91 293.88L418.73 293.04L418.6 292.2L418.53 291.34L418.5 290.48L418.5 279.12L418.53 278.26L418.6 277.41L418.73 276.56L418.91 275.72L419.14 274.89L419.42 274.08L419.75 273.29L420.13 272.52L420.55 271.77L421.01 271.05L421.52 270.36L422.07 269.7L422.66 269.07L423.29 268.49L423.94 267.94L424.64 267.43L425.36 266.96L426.1 266.54L426.88 266.17L427.67 265.84L428.48 265.56L429.31 265.33L430.14 265.15L430.99 265.02L431.85 264.94L432.7 264.91L438.39 264.91L439.24 264.89L440.1 264.81L440.95 264.68L441.79 264.5L442.61 264.27L443.42 263.99L444.22 263.66L444.99 263.29L445.74 262.87L446.46 262.4L447.15 261.89L447.81 261.34L448.43 260.75L449.02 260.13L449.57 259.47L450.08 258.78L450.54 258.06L450.96 257.31L451.34 256.54L451.67 255.75L451.95 254.94L452.18 254.11L452.36 253.27L452.49 252.42L452.57 251.57L452.59 250.71L452.59 238.35L452.62 237.49L452.7 236.64L452.82 235.79L453 234.95L453.24 234.12L453.52 233.31L453.84 232.52L454.22 231.75L454.64 231L455.11 230.28L455.62 229.59L456.16 228.93L456.75 228.31L457.38 227.72L458.04 227.17L458.73 226.66L459.45 226.19L460.2 225.77L460.97 225.4L461.76 225.07L462.57 224.79L463.4 224.56L464.24 224.38L465.08 224.25L465.94 224.17L466.8 224.15L472.48 224.15L473.34 224.12L474.19 224.04L475.04 223.91L475.88 223.73L476.71 223.5L477.52 223.22L478.31 222.89L479.08 222.52L479.83 222.1L480.55 221.63L481.24 221.12L481.9 220.57L482.52 219.99L483.11 219.36L483.66 218.7L484.17 218.01L484.64 217.29L485.06 216.54L485.43 215.77L485.76 214.98L486.04 214.17L486.27 213.34L486.45 212.5L486.58 211.65L486.66 210.8L486.68 209.94L486.68 196.73L486.66 195.87L486.58 195.02L486.45 194.17L486.27 193.33L486.04 192.5L485.76 191.69L485.43 190.9L485.06 190.13L484.64 189.38L484.17 188.66L483.66 187.97L483.11 187.31L482.52 186.69L481.9 186.1L481.24 185.55L480.55 185.04L479.83 184.57L479.08 184.15L478.31 183.78L477.52 183.45L476.71 183.17L475.88 182.94L475.04 182.76L474.19 182.63L473.34 182.55L472.48 182.52L432.7 182.52L431.85 182.5L430.99 182.42L430.14 182.29L429.31 182.11L428.48 181.88L427.67 181.6L426.88 181.27L426.1 180.9L425.36 180.48L424.64 180.01L423.94 179.5L423.29 178.95L422.66 178.36L422.07 177.74L421.52 177.08L421.01 176.39L420.55 175.67L420.13 174.92L419.75 174.15L419.42 173.36L419.14 172.55L418.91 171.72L418.73 170.88L418.6 170.03L418.53 169.18L418.5 168.32L418.5 32.38L588.96 32.38L588.96 332.53L588.93 333.39L588.86 334.24L588.73 335.09L588.55 335.93L588.32 336.76L588.04 337.57L587.71 338.36L587.33 339.13L586.91 339.88L586.45 340.6L585.94 341.29L585.39 341.95L584.8 342.57L584.17 343.16L583.52 343.71L582.82 344.22L582.1 344.69L581.36 345.11L580.58 345.48L579.79 345.81L578.98 346.09L578.15 346.32L577.32 346.5L576.47 346.63L575.61 346.71L574.75 346.73L568.5 346.73L567.65 346.76L566.79 346.84L565.94 346.97L565.11 347.15L564.28 347.38L563.47 347.66L562.67 347.99L561.9 348.36L561.16 348.78L560.44 349.25L559.74 349.76L559.09 350.31L558.46 350.9L557.87 351.52L557.32 352.18L556.81 352.87L556.35 353.59L555.93 354.34L555.55 355.11L555.22 355.9L554.94 356.71L554.71 357.54L554.53 358.38L554.4 359.23L554.33 360.08L554.3 360.94L554.3 372.3L554.33 373.16L554.4 374.02L554.53 374.86L554.71 375.7L554.94 376.53L555.22 377.34L555.55 378.13L555.93 378.91L556.35 379.65L556.81 380.37L557.32 381.06L557.87 381.72L558.46 382.35L559.09 382.94L559.74 383.49L560.44 383.99L561.16 384.46L561.9 384.88L562.67 385.26L563.47 385.59L564.28 385.87L565.11 386.1L565.94 386.28L566.79 386.41L567.65 386.48L568.5 386.51L574.75 386.51L575.61 386.53L576.47 386.61L577.32 386.74L578.15 386.92L578.98 387.15L579.79 387.43L580.58 387.76L581.36 388.14L582.1 388.56L582.82 389.02L583.52 389.53L584.17 390.08L584.8 390.67L585.39 391.29L585.94 391.95L586.45 392.64L586.91 393.37L587.33 394.11L587.71 394.88L588.04 395.68L588.32 396.49L588.55 397.31L588.73 398.15L588.86 399L588.93 399.86L588.96 400.71L588.96 537.65ZM500.89 304.69L500.03 304.66L499.18 304.58L498.33 304.46L497.49 304.28L496.66 304.04L495.85 303.76L495.06 303.44L494.29 303.06L493.54 302.64L492.82 302.17L492.13 301.66L491.47 301.12L490.84 300.53L490.26 299.9L489.71 299.24L489.2 298.55L488.73 297.83L488.31 297.08L487.94 296.31L487.61 295.52L487.33 294.71L487.1 293.88L486.92 293.04L486.79 292.2L486.71 291.34L486.68 290.48L486.68 279.12L486.71 278.26L486.79 277.41L486.92 276.56L487.1 275.72L487.33 274.89L487.61 274.08L487.94 273.29L488.31 272.52L488.73 271.77L489.2 271.05L489.71 270.36L490.26 269.7L490.84 269.07L491.47 268.49L492.13 267.94L492.82 267.43L493.54 266.96L494.29 266.54L495.06 266.17L495.85 265.84L496.66 265.56L497.49 265.33L498.33 265.15L499.18 265.02L500.03 264.94L500.89 264.91L506.57 264.91L507.43 264.94L508.28 265.02L509.13 265.15L509.97 265.33L510.8 265.56L511.61 265.84L512.4 266.17L513.17 266.54L513.92 266.96L514.64 267.43L515.33 267.94L515.99 268.49L516.62 269.07L517.2 269.7L517.75 270.36L518.26 271.05L518.73 271.77L519.15 272.52L519.52 273.29L519.85 274.08L520.13 274.89L520.36 275.72L520.54 276.56L520.67 277.41L520.75 278.26L520.78 279.12L520.78 290.48L520.75 291.34L520.67 292.2L520.54 293.04L520.36 293.88L520.13 294.71L519.85 295.52L519.52 296.31L519.15 297.08L518.73 297.83L518.26 298.55L517.75 299.24L517.2 299.9L516.62 300.53L515.99 301.12L515.33 301.66L514.64 302.17L513.92 302.64L513.17 303.06L512.4 303.44L511.61 303.76L510.8 304.04L509.97 304.28L509.13 304.46L508.28 304.58L507.43 304.66L506.57 304.69Z" fill="none" stroke="#2f77c4" stroke-width="2.7" stroke-linejoin="miter"/>
<path d="M443.22 427.99l1.6 -2.6l0.9 0.2l-1.1 2.9z" fill="#fff"/>
<rect x="449.75" y="222.3" width="19.89" height="19.89" fill="none" stroke="#77ac30" stroke-width="2.6" stroke-linejoin="round"/>
</g>
<text x="418.5" y="571.9" font-size="13.85" text-anchor="middle">0</text>
<text x="475.32" y="571.9" font-size="13.85" text-anchor="middle">20</text>
<text x="532.14" y="571.9" font-size="13.85" text-anchor="middle">40</text>
<text x="588.96" y="571.9" font-size="13.85" text-anchor="middle">60</text>
<text x="399.1" y="543.25" font-size="13.85" text-anchor="end">0</text>
<text x="399.1" y="486.43" font-size="13.85" text-anchor="end">20</text>
<text x="399.1" y="429.61" font-size="13.85" text-anchor="end">40</text>
<text x="399.1" y="372.79" font-size="13.85" text-anchor="end">60</text>
<text x="399.1" y="315.97" font-size="13.85" text-anchor="end">80</text>
<text x="399.1" y="259.15" font-size="13.85" text-anchor="end">100</text>
<text x="399.1" y="202.33" font-size="13.85" text-anchor="end">120</text>
<text x="399.1" y="145.51" font-size="13.85" text-anchor="end">140</text>
<text x="399.1" y="88.69" font-size="13.85" text-anchor="end">160</text>
<text x="399.1" y="31.5" font-size="13.85" text-anchor="end">180</text>
<text x="503.85" y="12" font-size="15.35" font-weight="bold" text-anchor="middle" style="fill:#000">Registered</text>
<text x="503.65" y="592" font-size="15.25" text-anchor="middle">X (mm)</text>
<text transform="translate(366.6 285.6) rotate(-90)" font-size="15.25" text-anchor="middle">Y (mm)</text>
<g id="ax-inset">
<rect x="483.5" y="322" width="193.5" height="193" fill="#fff"/>
<path d="M511.14 322V515M566.43 322V515M621.71 322V515M483.5 487.43H677M483.5 459.86H677M483.5 432.29H677M483.5 404.71H677M483.5 377.14H677M483.5 349.57H677" stroke="#eaeaea" stroke-width="1" fill="none"/>
<clipPath id="clip3"><rect x="482.5" y="321" width="195.5" height="197.5"/></clipPath>
<clipPath id="clip3b"><rect x="483.5" y="322" width="193.5" height="193"/></clipPath>
<g clip-path="url(#clip3)">
<path d="M511.14 528.79L511.14 511.31L511.14 500.8L511.14 490.3L511.14 479.79L510.89 469.29L511.97 458.85L513.85 448.51L516.51 438.35L519.93 428.42L524.09 418.77L528.98 409.47L534.56 400.57L540.81 392.11L547.67 384.15L555.12 376.73L563.12 369.89L571.61 363.68L580.55 358.13L589.89 353.28L599.56 349.14L609.53 345.75L619.72 343.11L630.09 341.26L640.56 340.2L651.09 339.92L661.62 339.92L672.15 339.92L690.82 339.92" fill="none" stroke="#2f77c4" stroke-width="0.75" clip-path="url(#clip3b)"/>
<path d="M511.14 511.31h0M511.14 500.8h0M511.14 490.3h0M511.14 479.79h0M510.89 469.29h0M511.97 458.85h0M513.85 448.51h0M516.51 438.35h0M519.93 428.42h0M524.09 418.77h0M528.98 409.47h0M534.56 400.57h0M540.81 392.11h0M547.67 384.15h0M555.12 376.73h0M563.12 369.89h0M571.61 363.68h0M580.55 358.13h0M589.89 353.28h0M599.56 349.14h0M609.53 345.75h0M619.72 343.11h0M630.09 341.26h0M640.56 340.2h0M651.09 339.92h0M661.62 339.92h0M672.15 339.92h0" stroke="#2f77c4" stroke-width="2.7" stroke-linecap="round" fill="none"/>
<path d="M639.05 370.4h0M645 370.4h0M650.95 370.4h0M656.9 370.4h0M662.85 370.4h0M668.8 370.4h0M674.75 370.4h0M621.2 376.43h0M627.15 376.43h0M633.1 376.43h0M639.05 376.43h0M645 376.43h0M650.95 376.43h0M656.9 376.43h0M662.85 376.43h0M668.8 376.43h0M674.75 376.43h0M609.3 382.46h0M615.25 382.46h0M621.2 382.46h0M627.15 382.46h0M633.1 382.46h0M639.05 382.46h0M645 382.46h0M650.95 382.46h0M656.9 382.46h0M662.85 382.46h0M668.8 382.46h0M674.75 382.46h0M603.35 388.49h0M609.3 388.49h0M615.25 388.49h0M621.2 388.49h0M627.15 388.49h0M633.1 388.49h0M639.05 388.49h0M645 388.49h0M650.95 388.49h0M656.9 388.49h0M662.85 388.49h0M668.8 388.49h0M674.75 388.49h0M591.45 394.52h0M597.4 394.52h0M603.35 394.52h0M609.3 394.52h0M615.25 394.52h0M621.2 394.52h0M627.15 394.52h0M633.1 394.52h0M639.05 394.52h0M645 394.52h0M650.95 394.52h0M656.9 394.52h0M662.85 394.52h0M668.8 394.52h0M674.75 394.52h0M585.5 400.55h0M591.45 400.55h0M597.4 400.55h0M603.35 400.55h0M609.3 400.55h0M615.25 400.55h0M621.2 400.55h0M627.15 400.55h0M633.1 400.55h0M639.05 400.55h0M645 400.55h0M650.95 400.55h0M656.9 400.55h0M662.85 400.55h0M668.8 400.55h0M674.75 400.55h0M573.6 406.58h0M579.55 406.58h0M585.5 406.58h0M591.45 406.58h0M597.4 406.58h0M603.35 406.58h0M609.3 406.58h0M615.25 406.58h0M621.2 406.58h0M627.15 406.58h0M633.1 406.58h0M639.05 406.58h0M645 406.58h0M650.95 406.58h0M656.9 406.58h0M662.85 406.58h0M668.8 406.58h0M674.75 406.58h0M567.65 412.61h0M573.6 412.61h0M579.55 412.61h0M585.5 412.61h0M591.45 412.61h0M597.4 412.61h0M603.35 412.61h0M609.3 412.61h0M615.25 412.61h0M621.2 412.61h0M627.15 412.61h0M633.1 412.61h0M639.05 412.61h0M645 412.61h0M650.95 412.61h0M656.9 412.61h0M662.85 412.61h0M668.8 412.61h0M674.75 412.61h0M561.7 418.64h0M567.65 418.64h0M573.6 418.64h0M579.55 418.64h0M585.5 418.64h0M591.45 418.64h0M597.4 418.64h0M603.35 418.64h0M609.3 418.64h0M615.25 418.64h0M621.2 418.64h0M627.15 418.64h0M633.1 418.64h0M639.05 418.64h0M645 418.64h0M650.95 418.64h0M656.9 418.64h0M662.85 418.64h0M668.8 418.64h0M674.75 418.64h0M561.7 424.67h0M567.65 424.67h0M573.6 424.67h0M579.55 424.67h0M585.5 424.67h0M591.45 424.67h0M597.4 424.67h0M603.35 424.67h0M609.3 424.67h0M615.25 424.67h0M621.2 424.67h0M627.15 424.67h0M633.1 424.67h0M639.05 424.67h0M645 424.67h0M650.95 424.67h0M656.9 424.67h0M662.85 424.67h0M668.8 424.67h0M674.75 424.67h0M555.75 430.7h0M561.7 430.7h0M567.65 430.7h0M573.6 430.7h0M579.55 430.7h0M585.5 430.7h0M591.45 430.7h0M597.4 430.7h0M603.35 430.7h0M609.3 430.7h0M615.25 430.7h0M621.2 430.7h0M627.15 430.7h0M633.1 430.7h0M639.05 430.7h0M645 430.7h0M650.95 430.7h0M656.9 430.7h0M662.85 430.7h0M668.8 430.7h0M674.75 430.7h0M555.75 436.73h0M561.7 436.73h0M567.65 436.73h0M573.6 436.73h0M579.55 436.73h0M585.5 436.73h0M591.45 436.73h0M597.4 436.73h0M603.35 436.73h0M609.3 436.73h0M615.25 436.73h0M621.2 436.73h0M627.15 436.73h0M633.1 436.73h0M639.05 436.73h0M645 436.73h0M650.95 436.73h0M656.9 436.73h0M662.85 436.73h0M668.8 436.73h0M674.75 436.73h0M549.8 442.76h0M555.75 442.76h0M561.7 442.76h0M567.65 442.76h0M573.6 442.76h0M579.55 442.76h0M585.5 442.76h0M591.45 442.76h0M597.4 442.76h0M603.35 442.76h0M609.3 442.76h0M615.25 442.76h0M621.2 442.76h0M627.15 442.76h0M633.1 442.76h0M639.05 442.76h0M645 442.76h0M650.95 442.76h0M656.9 442.76h0M662.85 442.76h0M668.8 442.76h0M674.75 442.76h0M549.8 448.79h0M555.75 448.79h0M561.7 448.79h0M567.65 448.79h0M573.6 448.79h0M579.55 448.79h0M585.5 448.79h0M591.45 448.79h0M597.4 448.79h0M603.35 448.79h0M609.3 448.79h0M615.25 448.79h0M621.2 448.79h0M627.15 448.79h0M633.1 448.79h0M639.05 448.79h0M645 448.79h0M650.95 448.79h0M656.9 448.79h0M662.85 448.79h0M668.8 448.79h0M674.75 448.79h0M543.85 454.82h0M549.8 454.82h0M555.75 454.82h0M561.7 454.82h0M567.65 454.82h0M573.6 454.82h0M579.55 454.82h0M585.5 454.82h0M591.45 454.82h0M597.4 454.82h0M603.35 454.82h0M609.3 454.82h0M615.25 454.82h0M621.2 454.82h0M627.15 454.82h0M633.1 454.82h0M639.05 454.82h0M645 454.82h0M650.95 454.82h0M656.9 454.82h0M662.85 454.82h0M668.8 454.82h0M674.75 454.82h0M543.85 460.85h0M549.8 460.85h0M555.75 460.85h0M561.7 460.85h0M567.65 460.85h0M573.6 460.85h0M579.55 460.85h0M585.5 460.85h0M591.45 460.85h0M597.4 460.85h0M603.35 460.85h0M609.3 460.85h0M615.25 460.85h0M621.2 460.85h0M627.15 460.85h0M633.1 460.85h0M639.05 460.85h0M645 460.85h0M650.95 460.85h0M656.9 460.85h0M662.85 460.85h0M668.8 460.85h0M674.75 460.85h0M543.85 466.88h0M549.8 466.88h0M555.75 466.88h0M561.7 466.88h0M567.65 466.88h0M573.6 466.88h0M579.55 466.88h0M585.5 466.88h0M591.45 466.88h0M597.4 466.88h0M603.35 466.88h0M609.3 466.88h0M615.25 466.88h0M621.2 466.88h0M627.15 466.88h0M633.1 466.88h0M639.05 466.88h0M645 466.88h0M650.95 466.88h0M656.9 466.88h0M662.85 466.88h0M668.8 466.88h0M674.75 466.88h0M543.85 472.91h0M549.8 472.91h0M555.75 472.91h0M561.7 472.91h0M567.65 472.91h0M573.6 472.91h0M579.55 472.91h0M585.5 472.91h0M591.45 472.91h0M597.4 472.91h0M603.35 472.91h0M609.3 472.91h0M615.25 472.91h0M621.2 472.91h0M627.15 472.91h0M633.1 472.91h0M639.05 472.91h0M645 472.91h0M650.95 472.91h0M656.9 472.91h0M662.85 472.91h0M668.8 472.91h0M674.75 472.91h0M537.9 478.94h0M543.85 478.94h0M549.8 478.94h0M555.75 478.94h0M561.7 478.94h0M567.65 478.94h0M573.6 478.94h0M579.55 478.94h0M585.5 478.94h0M591.45 478.94h0M597.4 478.94h0M603.35 478.94h0M609.3 478.94h0M615.25 478.94h0M621.2 478.94h0M627.15 478.94h0M633.1 478.94h0M639.05 478.94h0M645 478.94h0M650.95 478.94h0M656.9 478.94h0M662.85 478.94h0M668.8 478.94h0M674.75 478.94h0M537.9 484.97h0M543.85 484.97h0M549.8 484.97h0M555.75 484.97h0M561.7 484.97h0M567.65 484.97h0M573.6 484.97h0M579.55 484.97h0M585.5 484.97h0M591.45 484.97h0M597.4 484.97h0M603.35 484.97h0M609.3 484.97h0M615.25 484.97h0M621.2 484.97h0M627.15 484.97h0M633.1 484.97h0M639.05 484.97h0M645 484.97h0M650.95 484.97h0M656.9 484.97h0M662.85 484.97h0M668.8 484.97h0M674.75 484.97h0M537.9 491h0M543.85 491h0M549.8 491h0M555.75 491h0M561.7 491h0M567.65 491h0M573.6 491h0M579.55 491h0M585.5 491h0M591.45 491h0M597.4 491h0M603.35 491h0M609.3 491h0M615.25 491h0M621.2 491h0M627.15 491h0M633.1 491h0M639.05 491h0M645 491h0M650.95 491h0M656.9 491h0M662.85 491h0M668.8 491h0M674.75 491h0M537.9 497.03h0M543.85 497.03h0M549.8 497.03h0M555.75 497.03h0M561.7 497.03h0M567.65 497.03h0M573.6 497.03h0M579.55 497.03h0M585.5 497.03h0M591.45 497.03h0M597.4 497.03h0M603.35 497.03h0M609.3 497.03h0M615.25 497.03h0M621.2 497.03h0M627.15 497.03h0M633.1 497.03h0M639.05 497.03h0M645 497.03h0M650.95 497.03h0M656.9 497.03h0M662.85 497.03h0M668.8 497.03h0M674.75 497.03h0M543.85 503.06h0M549.8 503.06h0M555.75 503.06h0M561.7 503.06h0M567.65 503.06h0M573.6 503.06h0M579.55 503.06h0M585.5 503.06h0M591.45 503.06h0M597.4 503.06h0M603.35 503.06h0M609.3 503.06h0M615.25 503.06h0M621.2 503.06h0M627.15 503.06h0M633.1 503.06h0M639.05 503.06h0M645 503.06h0M650.95 503.06h0M656.9 503.06h0M662.85 503.06h0M668.8 503.06h0M674.75 503.06h0M543.85 509.09h0M549.8 509.09h0M555.75 509.09h0M561.7 509.09h0M567.65 509.09h0M573.6 509.09h0M579.55 509.09h0M585.5 509.09h0M591.45 509.09h0M597.4 509.09h0M603.35 509.09h0M609.3 509.09h0M615.25 509.09h0M621.2 509.09h0M627.15 509.09h0M633.1 509.09h0M639.05 509.09h0M645 509.09h0M650.95 509.09h0M656.9 509.09h0M662.85 509.09h0M668.8 509.09h0M674.75 509.09h0M543.85 515.12h0M549.8 515.12h0M555.75 515.12h0M561.7 515.12h0M567.65 515.12h0M573.6 515.12h0M579.55 515.12h0M585.5 515.12h0M591.45 515.12h0M597.4 515.12h0M603.35 515.12h0M609.3 515.12h0M615.25 515.12h0M621.2 515.12h0M627.15 515.12h0M633.1 515.12h0M639.05 515.12h0M645 515.12h0M650.95 515.12h0M656.9 515.12h0M662.85 515.12h0M668.8 515.12h0M674.75 515.12h0" stroke="#d95421" stroke-width="2.8" stroke-linecap="round" fill="none"/>
<path d="M636.25 367.6h5.6v5.6h-5.6zM642.2 367.6h5.6v5.6h-5.6zM648.15 367.6h5.6v5.6h-5.6zM654.1 367.6h5.6v5.6h-5.6zM660.05 367.6h5.6v5.6h-5.6zM666 367.6h5.6v5.6h-5.6zM671.95 367.6h5.6v5.6h-5.6zM618.4 373.63h5.6v5.6h-5.6zM624.35 373.63h5.6v5.6h-5.6zM630.3 373.63h5.6v5.6h-5.6zM606.5 379.66h5.6v5.6h-5.6zM612.45 379.66h5.6v5.6h-5.6zM600.55 385.69h5.6v5.6h-5.6zM588.65 391.72h5.6v5.6h-5.6zM594.6 391.72h5.6v5.6h-5.6zM582.7 397.75h5.6v5.6h-5.6zM570.8 403.78h5.6v5.6h-5.6zM576.75 403.78h5.6v5.6h-5.6zM564.85 409.81h5.6v5.6h-5.6zM558.9 415.84h5.6v5.6h-5.6zM558.9 421.87h5.6v5.6h-5.6zM552.95 427.9h5.6v5.6h-5.6zM552.95 433.93h5.6v5.6h-5.6zM547 439.96h5.6v5.6h-5.6zM547 445.99h5.6v5.6h-5.6zM541.05 452.02h5.6v5.6h-5.6zM541.05 458.05h5.6v5.6h-5.6zM541.05 464.08h5.6v5.6h-5.6zM541.05 470.11h5.6v5.6h-5.6zM535.1 476.14h5.6v5.6h-5.6zM535.1 482.17h5.6v5.6h-5.6zM535.1 488.2h5.6v5.6h-5.6zM535.1 494.23h5.6v5.6h-5.6zM541.05 500.26h5.6v5.6h-5.6zM541.05 506.29h5.6v5.6h-5.6zM541.05 512.32h5.6v5.6h-5.6z" stroke="#000" stroke-width="0.95" fill="none"/>
<path d="M540.72 392.03L567.53 412.71" stroke="#7e2f8e" stroke-width="1.9" fill="none"/>
<circle cx="540.72" cy="392.03" r="4.4" fill="#7e2f8e"/><circle cx="567.53" cy="412.71" r="4.4" fill="#7e2f8e"/>
</g>
<rect x="483.5" y="322" width="193.5" height="193" fill="none" stroke="#77ac30" stroke-width="2.4"/>
</g>
<text x="511.14" y="533" font-size="12.4" text-anchor="middle">12</text>
<text x="566.43" y="533" font-size="12.4" text-anchor="middle">14</text>
<text x="621.71" y="533" font-size="12.4" text-anchor="middle">16</text>
<text x="677" y="533" font-size="12.4" text-anchor="middle">18</text>
<text x="477.8" y="520.5" font-size="12.4" text-anchor="end">104</text>
<text x="477.8" y="492.93" font-size="12.4" text-anchor="end">105</text>
<text x="477.8" y="465.36" font-size="12.4" text-anchor="end">106</text>
<text x="477.8" y="437.79" font-size="12.4" text-anchor="end">107</text>
<text x="477.8" y="410.21" font-size="12.4" text-anchor="end">108</text>
<text x="477.8" y="382.64" font-size="12.4" text-anchor="end">109</text>
<text x="477.8" y="355.07" font-size="12.4" text-anchor="end">110</text>
<text x="477.8" y="327.5" font-size="12.4" text-anchor="end">111</text>
</svg></body></html>
